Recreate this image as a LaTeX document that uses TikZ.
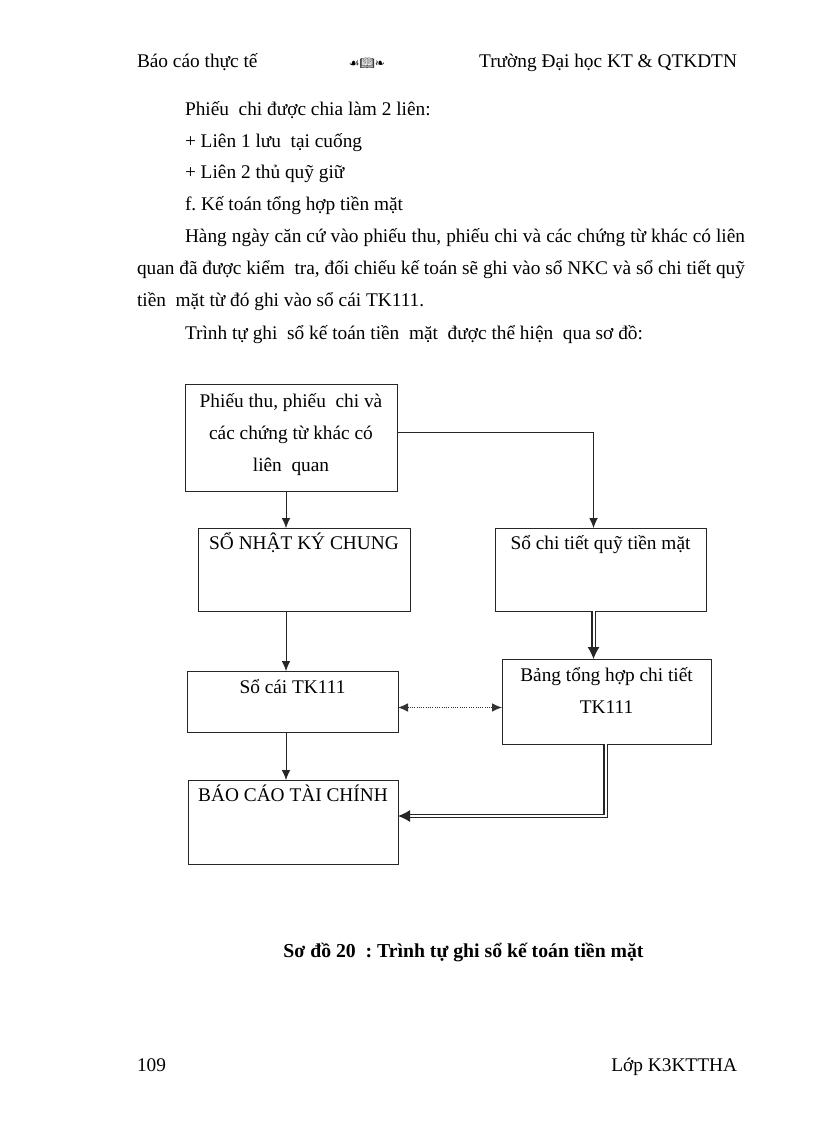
\documentclass[tikz,border=0pt]{standalone}
\usepackage{fontspec}
\setmainfont{Liberation Serif}
\newfontfamily\dejavu{DejaVu Sans}
\newfontfamily\emo{Noto Emoji}
\usetikzlibrary{arrows.meta,calc}
\newdimen\px \px=0.75pt
\frenchspacing
\begin{document}
\begin{tikzpicture}[x=0.75pt,y=-0.75pt,
  every node/.style={inner sep=0pt,outer sep=0pt},
  body/.style={font=\fontsize{14.5pt}{24pt}\selectfont},
  txt/.style={body,anchor=base west},
  btxt/.style={body,anchor=base,align=center},
  box/.style={draw=black!85,line width=0.7pt},
  arr/.style={line width=0.6pt,draw=black!85,-{Latex[length=7.5pt,width=6.5pt]}},
  dbl/.style={draw=black!85,double,double distance=1.5pt,line width=0.8pt,-{Latex[length=9pt,width=9pt]}},
  dotarr/.style={line width=0.7pt,draw=black!80,densely dotted,{Latex[length=7.5pt,width=6.5pt]}-{Latex[length=7.5pt,width=6.5pt]}}
]
\useasboundingbox[fill=white] (0,0) rectangle (816,1123);

% header
\node[txt] (h1) at (137,68) {Báo cáo thực tế};
\node[anchor=base] (h2) at (367,68) {\dejavu\fontsize{9pt}{9pt}\selectfont ☙\emo 📖\dejavu ❧};
\node[body,anchor=base east] (h3) at (737,68) {Trường Đại học KT \& QTKDTN};

% body text
\node[txt] (p1) at (185,116) {Phiếu\ \ chi được chia làm 2 liên:};
\node[txt] (p2) at (185,148) {+ Liên 1 lưu\ \ tại cuống};
\node[txt] (p3) at (185,179) {+ Liên 2 thủ quỹ giữ};
\node[txt] (p4) at (185,211) {f. Kế toán tổng hợp tiền mặt};
\node[txt] (p5) at (185,242.5) {\makebox[420pt][s]{Hàng ngày căn cứ vào phiếu thu, phiếu chi và các chứng từ khác có liên}};
\node[txt] (p6) at (137,274.5) {\makebox[456pt][s]{quan đã được kiểm\ \ tra, đối chiếu kế toán sẽ ghi vào sổ NKC và sổ chi tiết quỹ}};
\node[txt] (p7) at (137,306.5) {tiền\ \ mặt từ đó ghi vào sổ cái TK111.};
\node[txt] (p8) at (185,339.5) {Trình tự ghi\ \ sổ kế toán tiền\ \ mặt\ \ được thể hiện\ \ qua sơ đồ:};

% boxes
\node[box,minimum width=212\px,minimum height=107\px] (b1) at (291,437.5) {};
\node[box,minimum width=212\px,minimum height=83\px] (b2) at (304,569.5) {};
\node[box,minimum width=211\px,minimum height=83\px] (b3) at (600.5,569.5) {};
\node[box,minimum width=211\px,minimum height=61\px] (b4) at (292.5,701.5) {};
\node[box,minimum width=209\px,minimum height=85\px] (b5) at (606.5,701.5) {};
\node[box,minimum width=210\px,minimum height=84\px] (b6) at (293,822) {};

% box texts
\node[btxt] (t1a) at (291,407) {Phiếu thu, phiếu\ \ chi và};
\node[btxt] (t1b) at (291,439) {các chứng từ khác có};
\node[btxt] (t1c) at (291,471) {liên\ \ quan};
\node[btxt] (t2) at (304,549) {SỔ NHẬT KÝ CHUNG};
\node[btxt] (t3) at (600.5,549) {Sổ chi tiết quỹ tiền mặt};
\node[btxt] (t4) at (292.5,693) {Sổ cái TK111};
\node[btxt] (t5) at (606.5,681) {Bảng tổng hợp chi tiết};
\node[btxt] (t6) at (606.5,713) {TK111};
\node[btxt] (t7) at (293,801) {BÁO CÁO TÀI CHÍNH};

% helper coordinates
\coordinate (xl) at (286,0);
\coordinate (xr) at (593.5,0);
\coordinate (xb) at (605.5,0);
\coordinate (y1) at (0,432);
\coordinate (yd) at (0,707.5);
\coordinate (y2) at (0,816);

% connectors
\draw[arr] (b1.south -| xl) -- (b2.north -| xl);
\draw[arr] (b1.east |- y1) -| (b3.north -| xr);
\draw[arr] (b2.south -| xl) -- (b4.north -| xl);
\draw[arr] (b4.south -| xl) -- (b6.north -| xl);
\draw[dbl] (b3.south -| xr) -- (b5.north -| xr);
\draw[dotarr] (b4.east |- yd) -- (b5.west |- yd);
\draw[dbl] (b5.south -| xb) |- (b6.east |- y2);

% caption and footer
\node[anchor=base,font=\fontsize{14.8pt}{24pt}\selectfont\bfseries] (cap) at (463.5,957) {Sơ đồ 20\ \ : Trình tự ghi sổ kế toán tiền mặt};
\node[txt] (f1) at (137,1071) {109};
\node[body,anchor=base east] (f2) at (737,1071) {Lớp K3KTTHA};
\end{tikzpicture}
\end{document}
